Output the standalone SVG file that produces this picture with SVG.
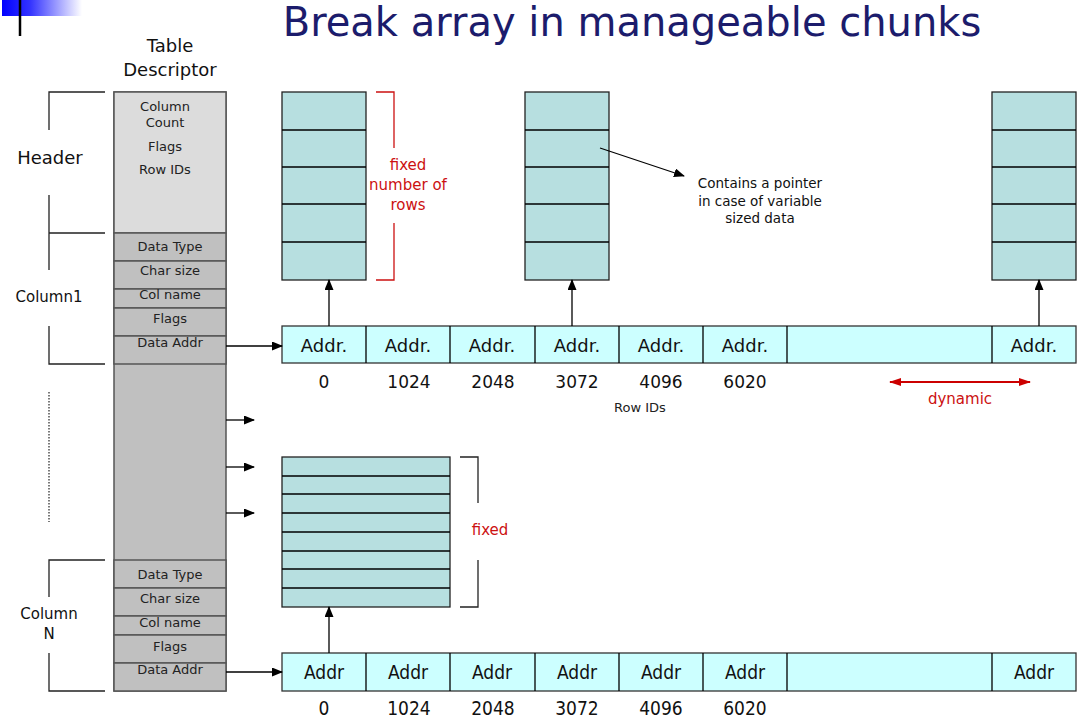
<svg xmlns="http://www.w3.org/2000/svg" width="1079" height="718" viewBox="0 0 1079 718">
<defs>
<linearGradient id="lg" x1="0" y1="0" x2="1" y2="0">
<stop offset="0" stop-color="#0000ff"/>
<stop offset="0.35" stop-color="#3333ff"/>
<stop offset="1" stop-color="#ffffff"/>
</linearGradient>
<marker id="ah" markerWidth="11" markerHeight="9" refX="10" refY="4.5" orient="auto" markerUnits="userSpaceOnUse">
<path d="M0,0 L11,4.5 L0,9 z" fill="#000"/>
</marker>
<marker id="rh" markerWidth="12" markerHeight="8" refX="11" refY="4" orient="auto-start-reverse" markerUnits="userSpaceOnUse">
<path d="M0,0 L12,4 L0,8 z" fill="#cc0000"/>
</marker>
<style>
text{font-family:"DejaVu Sans","Liberation Sans",sans-serif;text-anchor:middle}
.desc{fill:#c0c0c0;stroke:#555;stroke-width:1.5}
.hdr{fill:#dcdcdc;stroke:#555;stroke-width:1.5}
.sm{font-size:13px;fill:#222}
.lbl{font-size:18px;fill:#111}
.chunk{fill:#b7dfe0;stroke:#222;stroke-width:1.3}
.cell{fill:#ccffff;stroke:#333;stroke-width:1.3}
.addr{font-size:18px;fill:#111}
.addrc{font-family:"DejaVu Sans Condensed","DejaVu Sans",sans-serif;font-size:19px;fill:#111}
.num{font-size:17px;fill:#111}
.red{fill:#cc1111;font-size:15px}
.brk{fill:none;stroke:#222;stroke-width:1.3}
.rbrk{fill:none;stroke:#cc1111;stroke-width:1.3}
.ln{stroke:#000;stroke-width:1.3;fill:none}
</style>
</defs>
<rect width="1079" height="718" fill="#fff"/>
<g id="logo">
<rect x="2" y="0" width="80" height="16" fill="url(#lg)"/>
<line x1="20" y1="0" x2="20" y2="36" stroke="#000" stroke-width="2.5"/>
</g>
<text x="632" y="36" font-size="40" fill="#1c1c6c">Break array in manageable chunks</text>
<text x="170" y="52" class="lbl">Table</text>
<text x="170" y="76" class="lbl">Descriptor</text>

<g id="descriptor">
<rect x="114" y="92" width="112" height="599" class="desc"/>
<rect x="114" y="92" width="112" height="141" class="hdr"/>
<text x="165" y="111" class="sm">Column</text>
<text x="165" y="127" class="sm">Count</text>
<text x="165" y="151" class="sm">Flags</text>
<text x="165" y="174" class="sm">Row IDs</text>
<rect x="114" y="233" width="112" height="28" class="desc"/>
<rect x="114" y="261" width="112" height="28" class="desc"/>
<rect x="114" y="289" width="112" height="19" class="desc"/>
<rect x="114" y="308" width="112" height="28" class="desc"/>
<rect x="114" y="336" width="112" height="28" class="desc"/>
<text x="170" y="251" class="sm">Data Type</text>
<text x="170" y="275" class="sm">Char size</text>
<text x="170" y="299" class="sm">Col name</text>
<text x="170" y="323" class="sm">Flags</text>
<text x="170" y="347" class="sm">Data Addr</text>
<rect x="114" y="560" width="112" height="28" class="desc"/>
<rect x="114" y="588" width="112" height="28" class="desc"/>
<rect x="114" y="616" width="112" height="19" class="desc"/>
<rect x="114" y="635" width="112" height="28" class="desc"/>
<rect x="114" y="663" width="112" height="28" class="desc"/>
<text x="170" y="579" class="sm">Data Type</text>
<text x="170" y="603" class="sm">Char size</text>
<text x="170" y="627" class="sm">Col name</text>
<text x="170" y="651" class="sm">Flags</text>
<text x="170" y="674" class="sm">Data Addr</text>
</g>

<g id="brackets-left">
<path d="M105,92 H49 V130 M49,195 V233 H105 M49,233 V270 M49,326 V364 H105" class="brk"/>
<line x1="49" y1="392" x2="49" y2="522" stroke="#333" stroke-width="1.3" stroke-dasharray="1.5,1.5"/>
<path d="M105,560 H49 V597 M49,653 V691 H105" class="brk"/>
<text x="50" y="164" class="lbl">Header</text>
<text x="49" y="302" font-size="15" fill="#111">Column1</text>
<text x="49" y="619" font-size="15" fill="#111">Column</text>
<text x="49" y="639" font-size="15" fill="#111">N</text>
</g>

<g id="chunk1">
<rect x="282" y="92" width="84" height="188" class="chunk"/>
<path d="M282,130 H366 M282,167 H366 M282,204 H366 M282,242 H366" class="ln"/>
</g>
<g id="chunk2">
<rect x="525" y="92" width="84" height="188" class="chunk"/>
<path d="M525,130 H609 M525,167 H609 M525,204 H609 M525,242 H609" class="ln"/>
</g>
<g id="chunk3">
<rect x="992" y="92" width="84" height="188" class="chunk"/>
<path d="M992,130 H1076 M992,167 H1076 M992,204 H1076 M992,242 H1076" class="ln"/>
</g>
<g id="fixed-rows-label">
<path d="M376,92 H394 V148 M394,223 V280 H376" class="rbrk"/>
<text x="408" y="170" class="red">fixed</text>
<text x="408" y="190" class="red">number of</text>
<text x="408" y="210" class="red">rows</text>
</g>
<g id="pointer-note">
<text x="760" y="188" font-size="13.5" fill="#111">Contains a pointer</text>
<text x="760" y="206" font-size="13.5" fill="#111">in case of variable</text>
<text x="760" y="223" font-size="13.5" fill="#111">sized data</text>
</g>

<g id="addr-row1">
<rect x="282" y="326" width="794" height="37" class="cell"/>
<path d="M366,326 V363 M450,326 V363 M535,326 V363 M619,326 V363 M703,326 V363 M787,326 V363 M992,326 V363" class="ln"/>
<text x="324" y="352" class="addr">Addr.</text>
<text x="408" y="352" class="addr">Addr.</text>
<text x="492" y="352" class="addr">Addr.</text>
<text x="577" y="352" class="addr">Addr.</text>
<text x="661" y="352" class="addr">Addr.</text>
<text x="745" y="352" class="addr">Addr.</text>
<text x="1034" y="352" class="addr">Addr.</text>
<text x="324" y="388" class="num">0</text>
<text x="409" y="388" class="num">1024</text>
<text x="493" y="388" class="num">2048</text>
<text x="577" y="388" class="num">3072</text>
<text x="661" y="388" class="num">4096</text>
<text x="745" y="388" class="num">6020</text>
<text x="640" y="412" class="sm">Row IDs</text>
<text x="960" y="404" class="red" font-size="14">dynamic</text>
</g>

<g id="chunkN">
<rect x="282" y="457" width="168" height="150" class="chunk"/>
<path d="M282,476 H450 M282,494 H450 M282,513 H450 M282,532 H450 M282,551 H450 M282,569 H450 M282,588 H450" class="ln"/>
<path d="M460,457 H478 V503 M478,560 V607 H460" class="brk"/>
<text x="490" y="535" class="red">fixed</text>
</g>

<g id="addr-rowN">
<rect x="282" y="653" width="794" height="38" class="cell"/>
<path d="M366,653 V691 M450,653 V691 M535,653 V691 M619,653 V691 M703,653 V691 M787,653 V691 M992,653 V691" class="ln"/>
<text x="324" y="679" class="addrc">Addr</text>
<text x="408" y="679" class="addrc">Addr</text>
<text x="492" y="679" class="addrc">Addr</text>
<text x="577" y="679" class="addrc">Addr</text>
<text x="661" y="679" class="addrc">Addr</text>
<text x="745" y="679" class="addrc">Addr</text>
<text x="1034" y="679" class="addrc">Addr</text>
<text x="324" y="715" class="addrc">0</text>
<text x="409" y="715" class="addrc">1024</text>
<text x="493" y="715" class="addrc">2048</text>
<text x="577" y="715" class="addrc">3072</text>
<text x="661" y="715" class="addrc">4096</text>
<text x="745" y="715" class="addrc">6020</text>
</g>

<g id="connectors">
<line x1="226" y1="346" x2="282" y2="346" class="ln" marker-end="url(#ah)"/>
<line x1="226" y1="672" x2="282" y2="672" class="ln" marker-end="url(#ah)"/>
<line x1="226" y1="420" x2="254" y2="420" class="ln" marker-end="url(#ah)"/>
<line x1="226" y1="467" x2="254" y2="467" class="ln" marker-end="url(#ah)"/>
<line x1="226" y1="513" x2="254" y2="513" class="ln" marker-end="url(#ah)"/>
<line x1="329" y1="326" x2="329" y2="280" class="ln" marker-end="url(#ah)"/>
<line x1="572" y1="326" x2="572" y2="280" class="ln" marker-end="url(#ah)"/>
<line x1="1039" y1="326" x2="1039" y2="280" class="ln" marker-end="url(#ah)"/>
<line x1="329" y1="653" x2="329" y2="607" class="ln" marker-end="url(#ah)"/>
<line x1="600" y1="148" x2="684" y2="176" class="ln" marker-end="url(#ah)"/>
<line x1="890" y1="382" x2="1030" y2="382" stroke="#cc0000" stroke-width="2" marker-start="url(#rh)" marker-end="url(#rh)"/>
</g>
</svg>
